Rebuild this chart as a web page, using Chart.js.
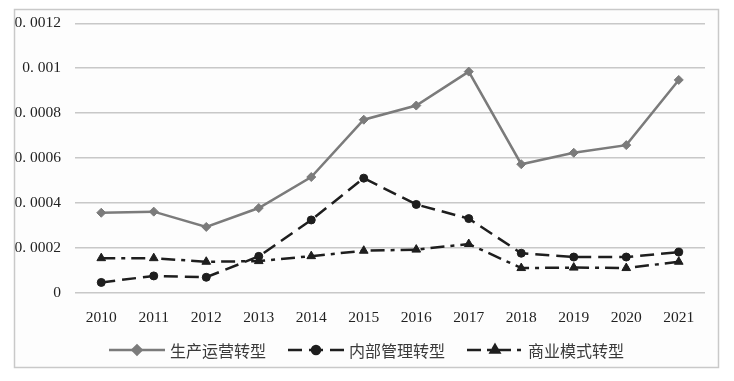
<!DOCTYPE html>
<html lang="zh">
<head>
  <meta charset="UTF-8">
  <title>转型类型趋势</title>
  <script src="https://cdn.jsdelivr.net/npm/chart.js"></script>
  <style>
    html, body { margin: 0; padding: 0; background: #fff; }
  </style>
</head>
<body>
  <canvas id="myChart" width="734" height="381"></canvas>

  <script>
    // chart data
    const years = ['2010', '2011', '2012', '2013', '2014', '2015', '2016', '2017', '2018', '2019', '2020', '2021'];
    const seriesNames = ['生产运营转型', '内部管理转型', '商业模式转型'];
    const production = [0.000357, 0.000362, 0.000294, 0.000378, 0.000516, 0.000771, 0.000834, 0.000985, 0.000573, 0.000624, 0.000658, 0.000948];
    const management = [0.000047, 0.000076, 0.000070, 0.000163, 0.000325, 0.000511, 0.000394, 0.000331, 0.000177, 0.000160, 0.000160, 0.000182];
    const business   = [0.000155, 0.000155, 0.000139, 0.000142, 0.000164, 0.000188, 0.000193, 0.000218, 0.000111, 0.000113, 0.000111, 0.000139];
    const yTickLabels = ['0', '0. 0002', '0. 0004', '0. 0006', '0. 0008', '0. 001', '0. 0012'];

    const serifFont = "'Liberation Serif', 'DejaVu Serif', serif";
    const cjkFont = "'Noto Sans CJK SC', 'Noto Sans', sans-serif";

    const styles = [
      { color: '#7b7b7b', dash: [], point: 'rectRot', radius: 4.5 },
      { color: '#1e1e1e', dash: [14, 7], point: 'circle', radius: 4 },
      { color: '#1e1e1e', dash: [14, 6, 4, 6], point: 'triangle', radius: 5 }
    ];

    // frame around the whole figure
    const framePlugin = {
      id: 'frame',
      beforeDraw(chart) {
        const ctx = chart.ctx;
        ctx.save();
        ctx.fillStyle = '#ffffff';
        ctx.fillRect(0, 0, chart.width, chart.height);
        ctx.fillStyle = '#fdfdfd';
        ctx.fillRect(14, 9, 705, 359);
        ctx.restore();
      },
      afterDraw(chart) {
        const ctx = chart.ctx;
        ctx.save();
        // the left edge cuts the first digit of the y labels
        ctx.fillStyle = '#ffffff';
        ctx.fillRect(0, 0, 14, chart.height);
        ctx.strokeStyle = '#c9c9c9';
        ctx.lineWidth = 1.5;
        ctx.strokeRect(14.5, 9.5, 704, 358);
        ctx.restore();
      }
    };

    // legend: line + marker, then the name
    const legendPlugin = {
      id: 'lineLegend',
      afterDraw(chart) {
        const ctx = chart.ctx;
        const lineLen = 56, gap = 5, itemGap = 22, y = 350;
        ctx.save();
        ctx.font = '16px ' + cjkFont;
        const widths = seriesNames.map(n => ctx.measureText(n).width);
        let total = 0;
        widths.forEach(w => { total += lineLen + gap + w; });
        total += itemGap * (seriesNames.length - 1);
        let x = 366.5 - total / 2;
        seriesNames.forEach((name, i) => {
          const st = styles[i];
          ctx.strokeStyle = st.color;
          ctx.lineWidth = 2.5;
          ctx.setLineDash(st.dash);
          ctx.beginPath();
          ctx.moveTo(x, y);
          ctx.lineTo(x + lineLen, y);
          ctx.stroke();
          ctx.setLineDash([]);
          ctx.fillStyle = st.color;
          Chart.helpers.drawPoint(ctx, {
            pointStyle: st.point, radius: st.radius, rotation: 0, borderWidth: 1
          }, x + lineLen / 2, y);
          ctx.fillStyle = '#3a3a3a';
          ctx.textBaseline = 'middle';
          ctx.textAlign = 'left';
          ctx.fillText(name, x + lineLen + gap, y + 1);
          x += lineLen + gap + widths[i] + itemGap;
        });
        ctx.restore();
      }
    };

    const dataLists = [production, management, business];
    const datasets = dataLists.map((vals, i) => ({
      label: seriesNames[i],
      data: vals,
      borderColor: styles[i].color,
      backgroundColor: styles[i].color,
      borderWidth: 2.5,
      borderDash: styles[i].dash,
      pointStyle: styles[i].point,
      pointRadius: styles[i].radius,
      pointBorderWidth: 1,
      pointBackgroundColor: styles[i].color,
      pointBorderColor: styles[i].color,
      tension: 0,
      fill: false
    }));

    const ctx = document.getElementById('myChart').getContext('2d');
    const myChart = new Chart(ctx, {
      type: 'line',
      data: { labels: years, datasets: datasets },
      plugins: [framePlugin, legendPlugin],
      options: {
        responsive: false,
        animation: false,
        layout: { padding: { top: 20, right: 29, bottom: 48, left: 0 } },
        plugins: {
          legend: { display: false },
          tooltip: { enabled: false }
        },
        scales: {
          x: {
            offset: true,
            grid: { display: false },
            border: { display: false },
            ticks: {
              color: '#222',
              font: { family: serifFont, size: 15.5 },
              padding: 8,
              maxRotation: 0,
              autoSkip: false
            },
            afterFit(scale) { scale.height = 40; }
          },
          y: {
            min: 0,
            max: 0.0012,
            border: { display: false },
            grid: { color: '#c8c8c8', lineWidth: 1.5, drawTicks: false },
            ticks: {
              stepSize: 0.0002,
              color: '#222',
              font: { family: serifFont, size: 15.5 },
              padding: 14,
              callback: (v, i) => yTickLabels[i]
            },
            afterFit(scale) { scale.width = 75; }
          }
        }
      }
    });
  </script>
</body>
</html>
